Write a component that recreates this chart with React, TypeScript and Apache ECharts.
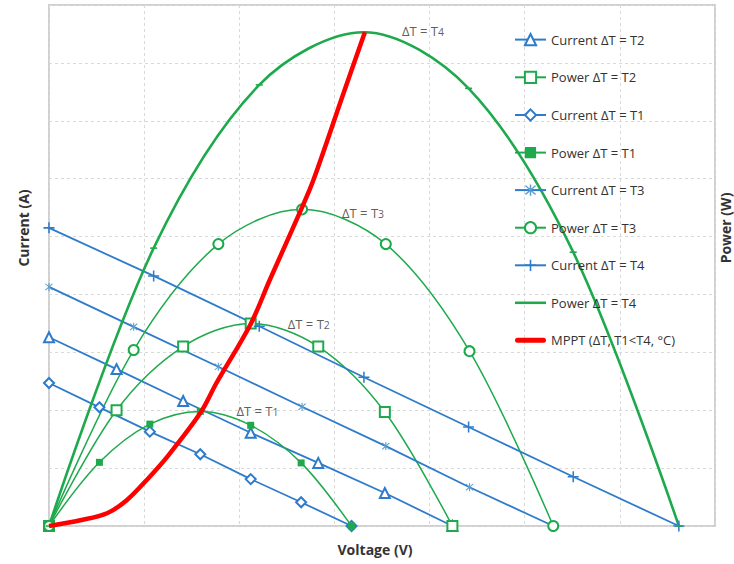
import React, { useEffect, useRef } from "react";
import * as echarts from "echarts";

// ---- data ----
const voltT1 = [0, 0.53, 1.06, 1.59, 2.12, 2.65, 3.18];
const currentT1 = [2.47, 2.05, 1.63, 1.24, 0.81, 0.41, 0];
const powerT1 = [0, 1.1, 1.76, 1.98, 1.74, 1.09, 0];

const voltT2 = [0, 0.71, 1.41, 2.12, 2.83, 3.53, 4.24];
const currentT2 = [3.26, 2.71, 2.16, 1.61, 1.09, 0.57, 0];
const powerT2 = [0, 2.0, 3.1, 3.5, 3.1, 1.97, 0];

const voltT3 = [0, 0.89, 1.78, 2.66, 3.54, 4.42, 5.3];
const currentT3 = [4.13, 3.44, 2.75, 2.06, 1.38, 0.67, 0];
const powerT3 = [0, 3.04, 4.87, 5.47, 4.87, 3.02, 0];

const voltT4 = [0, 1.1, 2.21, 3.31, 4.41, 5.51, 6.62];
const currentT4 = [5.15, 4.32, 3.45, 2.57, 1.71, 0.85, 0];
const powerT4 = [0, 4.8, 7.62, 8.53, 7.56, 4.73, 0];

const mpptVolt = [0, 0.33, 0.61, 0.82, 1.03, 1.24, 1.59, 1.76, 2.12, 2.32, 2.64, 2.78, 3.09, 3.32];
const mpptPower = [0, 0.1, 0.22, 0.45, 0.8, 1.19, 1.95, 2.47, 3.49, 4.25, 5.43, 5.98, 7.45, 8.53];

const annotationNames = ["ΔT = T1", "ΔT = T2", "ΔT = T3", "ΔT = T4"];
const annotationVolt = [1.97, 2.51, 3.08, 3.71];
const annotationPower = [2.02, 3.52, 5.44, 8.57];

const legendNames = [
  "Current ΔT = T2",
  "Power ΔT = T2",
  "Current ΔT = T1",
  "Power ΔT = T1",
  "Current ΔT = T3",
  "Power ΔT = T3",
  "Current ΔT = T4",
  "Power ΔT = T4",
  "MPPT (ΔT, T1<T4, °C)",
];

const pairs = (xs: number[], ys: number[]) => xs.map((x, i) => [x, ys[i]]);

const BLUE = "#2E7BCB";
const STAR_BLUE = "#5A9FCB";
const GREEN = "#1EAA4C";
const RED = "#FF0000";
const TEXT = "#333333";
const FONT = "'Open Sans', 'Liberation Sans', Arial, sans-serif";

const PLUS =
  "path://M4.3,0 L5.7,0 L5.7,4.3 L10,4.3 L10,5.7 L5.7,5.7 L5.7,10 L4.3,10 L4.3,5.7 L0,5.7 L0,4.3 L4.3,4.3 Z";
const STAR =
  "path://M4.4,0 L5.6,0 L5.6,10 L4.4,10 Z M1.42,0.58 L9.42,8.58 L8.58,9.42 L0.58,1.42 Z M8.58,0.58 L9.42,1.42 L1.42,9.42 L0.58,8.58 Z";
const THICK_LINE_ICON = "path://M0,0 L31,0 L31,2.6 L0,2.6 Z";
const MPPT_ICON = "path://M2.5,0 L28.5,0 A2.5,2.5 0 0 1 28.5,5 L2.5,5 A2.5,2.5 0 0 1 2.5,0 Z";

export default function App() {
  const ref = useRef<HTMLDivElement>(null);

  useEffect(() => {
    if (!ref.current) return;
    const chart = echarts.init(ref.current, undefined, { renderer: "svg" });

    const current = (name: string, xs: number[], ys: number[], symbol: string, size: number, empty: boolean, symColor = BLUE) => ({
      name,
      type: "line",
      yAxisIndex: 0,
      data: pairs(xs, ys),
      symbol,
      symbolSize: size,
      showAllSymbol: true,
      lineStyle: { color: BLUE, width: 1.8 },
      itemStyle: empty
        ? { color: BLUE, borderColor: BLUE, borderWidth: 1.2 }
        : { color: symColor, borderWidth: 0 },
      emphasis: { disabled: true },
    });

    const power = (name: string, xs: number[], ys: number[], symbol: string, size: any, width: number, empty: boolean) => ({
      name,
      type: "line",
      yAxisIndex: 1,
      data: pairs(xs, ys),
      smooth: 0.33,
      symbol,
      symbolSize: size,
      showAllSymbol: true,
      lineStyle: { color: GREEN, width },
      itemStyle: empty
        ? { color: GREEN, borderColor: GREEN, borderWidth: 1.1 }
        : { color: GREEN, borderWidth: 0 },
      emphasis: { disabled: true },
    });

    const titleStyle = {
      fontSize: 14,
      fontWeight: "bold",
      fill: TEXT,
      fontFamily: FONT,
      textAlign: "center",
      textVerticalAlign: "middle",
    };

    chart.setOption({
      animation: false,
      backgroundColor: "#ffffff",
      textStyle: { fontFamily: FONT },
      grid: {
        left: 49,
        top: 5,
        width: 666,
        height: 521,
        show: true,
        borderColor: "#D0D0D0",
        borderWidth: 2,
        backgroundColor: "transparent",
      },
      xAxis: {
        type: "value",
        min: 0,
        max: 7,
        interval: 1,
        axisLine: { show: false },
        axisTick: { show: false },
        axisLabel: { show: false },
        splitLine: { show: true, lineStyle: { color: "#D9D9D9", type: [3, 3], width: 1 } },
      },
      yAxis: [
        {
          type: "value",
          min: 0,
          max: 9,
          interval: 1,
          axisLine: { show: false },
          axisTick: { show: false },
          axisLabel: { show: false },
          splitLine: { show: true, lineStyle: { color: "#D9D9D9", type: [3, 3], width: 1 } },
        },
        {
          type: "value",
          position: "right",
          min: 0,
          max: 9,
          interval: 1,
          axisLine: { show: false },
          axisTick: { show: false },
          axisLabel: { show: false },
          splitLine: { show: false },
        },
      ],
      legend: {
        data: legendNames.map((n) =>
          n === "Power ΔT = T4"
            ? { name: n, icon: THICK_LINE_ICON }
            : n.startsWith("MPPT")
            ? { name: n, icon: MPPT_ICON }
            : { name: n }
        ),
        orient: "vertical",
        left: 514,
        top: 33,
        padding: 0,
        itemWidth: 31,
        itemHeight: 14,
        itemGap: 24.5,
        symbolKeepAspect: true,
        textStyle: { fontSize: 13, color: TEXT, fontFamily: FONT },
        selectedMode: false,
      },
      graphic: [
        { type: "text", x: 375, y: 549, style: { ...titleStyle, text: "Voltage (V)" } },
        { type: "text", x: 23, y: 228, rotation: Math.PI / 2, style: { ...titleStyle, text: "Current (A)" } },
        { type: "text", x: 725, y: 228, rotation: Math.PI / 2, style: { ...titleStyle, text: "Power (W)" } },
      ],
      series: [
        current("Current ΔT = T2", voltT2, currentT2, "emptyTriangle", 10, true),
        power("Power ΔT = T2", voltT2, powerT2, "emptyRect", 10, 1.5, true),
        current("Current ΔT = T1", voltT1, currentT1, "emptyDiamond", 10, true),
        power("Power ΔT = T1", voltT1, powerT1, "rect", 7, 1.5, false),
        current("Current ΔT = T3", voltT3, currentT3, STAR, 8, false, STAR_BLUE),
        power("Power ΔT = T3", voltT3, powerT3, "emptyCircle", 10, 1.5, true),
        current("Current ΔT = T4", voltT4, currentT4, PLUS, 11, false),
        power("Power ΔT = T4", voltT4, powerT4, "rect", [7, 1.6], 2.6, false),
        {
          name: "MPPT (ΔT, T1<T4, °C)",
          type: "line",
          yAxisIndex: 1,
          data: pairs(mpptVolt, mpptPower),
          smooth: 0.33,
          symbol: "none",
          lineStyle: { color: RED, width: 4.5 },
          itemStyle: { color: RED },
          emphasis: { disabled: true },
          z: 4,
        },
        {
          name: "annotations",
          type: "scatter",
          yAxisIndex: 1,
          silent: true,
          symbolSize: 0,
          data: annotationNames.map((n, i) => ({ name: n, value: [annotationVolt[i], annotationPower[i]] })),
          label: {
            show: true,
            position: "right",
            distance: 0,
            formatter: (p: any) => {
              const s = String(p.name);
              return `{a|${s.slice(0, -1)}}{s|${s.slice(-1)}}`;
            },
            rich: {
              a: { fontSize: 13, color: TEXT, fontFamily: FONT, lineHeight: 16, verticalAlign: "bottom" },
              s: { fontSize: 10.5, color: TEXT, fontFamily: FONT, lineHeight: 16, verticalAlign: "bottom" },
            },
          },
          z: 5,
        },
      ],
    });

    return () => chart.dispose();
  }, []);

  return (
    <div
      ref={ref}
      style={{ position: "fixed", left: 0, top: 0, width: 734, height: 564, background: "#fff" }}
    />
  );
}
